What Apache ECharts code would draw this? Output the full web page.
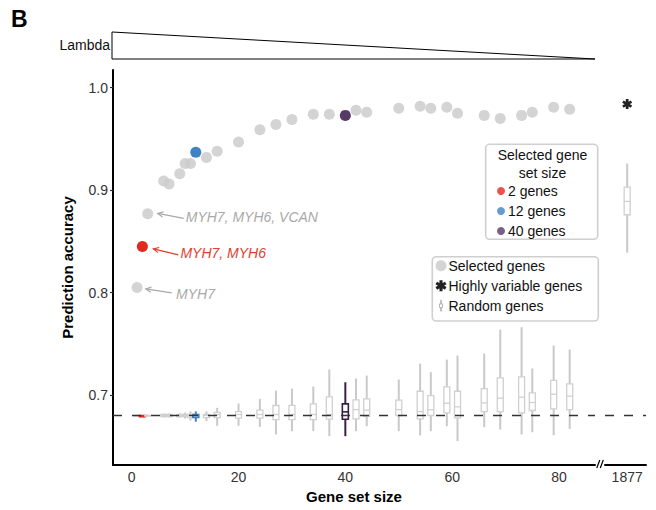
<!DOCTYPE html>
<html><head><meta charset="utf-8">
<script src="https://cdn.jsdelivr.net/npm/echarts@6/dist/echarts.min.js"></script>
<style>html,body{margin:0;padding:0;background:#fff}#chart{width:656px;height:510px}</style>
</head><body><div id="chart"></div>
<script>
const FONT = '"Liberation Sans", Arial, Helvetica, sans-serif';

// ---- data ----
const geneSetSize      = [1,2,3,6,7,9,10,11,12,14,16,20,24,27,30,34,37,40,42,44,50,54,56,59,61,66,69,73,75,79,82];
const selectedAccuracy = [0.805,0.845,0.877,0.909,0.906,0.916,0.926,0.926,0.937,0.932,0.938,0.947,0.959,0.964,0.969,0.974,0.974,0.973,0.978,0.976,0.980,0.982,0.980,0.981,0.975,0.973,0.970,0.973,0.976,0.981,0.979];
const randomLow    = [0.680,0.679,0.679,0.678,0.678,0.678,0.677,0.675,0.674,0.6745,0.670,0.670,0.669,0.6615,0.6647,0.6647,0.6598,0.6598,0.6647,0.6696,0.6647,0.6605,0.6647,0.6696,0.655,0.6686,0.6663,0.6615,0.6637,0.6608,0.667];
const randomQ1     = [0.680,0.679,0.680,0.679,0.679,0.679,0.679,0.678,0.678,0.678,0.678,0.6774,0.6774,0.676,0.676,0.676,0.6764,0.6764,0.6768,0.6793,0.680,0.6768,0.680,0.6826,0.6777,0.6839,0.6839,0.6826,0.6849,0.6865,0.6858];
const randomMedian = [0.680,0.679,0.680,0.680,0.680,0.680,0.680,0.680,0.680,0.680,0.681,0.681,0.681,0.681,0.681,0.681,0.681,0.6836,0.6858,0.6852,0.6858,0.6839,0.6855,0.692,0.6885,0.6923,0.6969,0.6979,0.6927,0.7008,0.6989];
const randomQ3     = [0.680,0.680,0.680,0.681,0.681,0.681,0.681,0.681,0.681,0.681,0.683,0.6839,0.6852,0.6898,0.690,0.6914,0.6982,0.6914,0.6953,0.6963,0.695,0.7037,0.6995,0.708,0.7037,0.7063,0.7168,0.7177,0.7021,0.7144,0.7109];
const randomHigh   = [0.680,0.680,0.681,0.682,0.682,0.682,0.683,0.684,0.684,0.684,0.6875,0.6917,0.6963,0.7044,0.7063,0.7083,0.7249,0.7125,0.7161,0.719,0.7151,0.7307,0.7223,0.7346,0.7385,0.7405,0.7639,0.7662,0.7259,0.7483,0.7444];
const hvgSize = 1877;
const hvgAccuracy = 0.984;
const hvgRandom = [0.839,0.876,0.889,0.903,0.926]; // low, q1, median, q3, high
const baseline = 0.68;
const highlightSizes = [2, 12, 40];
const highlightNames = ['2 genes', '12 genes', '40 genes'];
const annotatedSizes = [3, 2, 1];
const annotationLabels = ['MYH7, MYH6, VCAN', 'MYH7, MYH6', 'MYH7'];
const xTickValues = [0, 20, 40, 60, 80];
const breakTickValues = [1877];
const yTickValues = [0.7, 0.8, 0.9, 1.0];

// ---- styles ----
const highlightColors = ['#e3291d', '#3f83c4', '#573a66'];
const boxHighlight = {2: '#e3291d', 12: '#3f83c4', 40: '#3a1d47'};
const annotationStyle = [
  {color: '#a9a9a9', head: [10, -0.3], tail: [36, 4.7], text: [38, 3]},
  {color: '#e0412f', head: [11, 2.3], tail: [36, 8.3], text: [38, 6.6]},
  {color: '#a9a9a9', head: [8.7, 1.4], tail: [34.7, 5.4], text: [39, 7]}
];
const asteriskPath = 'path://M-1.4,-5L1.4,-5L1.4,5L-1.4,5ZM3.63,-3.71L5.03,-1.29L-3.63,3.71L-5.03,1.29ZM5.03,1.29L3.63,3.71L-5.03,-1.29L-3.63,-3.71Z';
const boxIconPath = 'path://M3.5,0L4.5,0L4.5,6L3.5,6ZM1.5,6L6.5,6L6.5,12L1.5,12ZM3.5,12L4.5,12L4.5,18L3.5,18Z';

// ---- derived series data ----
const greyPoints = geneSetSize.map((s, i) => [s, selectedAccuracy[i]]).filter(p => highlightSizes.indexOf(p[0]) < 0);
const highlightPoints = highlightSizes.map(s => [[s, selectedAccuracy[geneSetSize.indexOf(s)]]]);
const boxRows = geneSetSize.map((s, i) => [s, randomLow[i], randomQ1[i], randomMedian[i], randomQ3[i], randomHigh[i]]);
const hvgBoxRows = [[hvgSize].concat(hvgRandom)];
const annotationRows = annotatedSizes.map(s => [s, selectedAccuracy[geneSetSize.indexOf(s)]]);

function renderBox(params, api) {
  const x = api.value(0);
  const lo = api.coord([x, api.value(1)]);
  const q1 = api.coord([x, api.value(2)]);
  const md = api.coord([x, api.value(3)]);
  const q3 = api.coord([x, api.value(4)]);
  const hi = api.coord([x, api.value(5)]);
  const hc = boxHighlight[x];
  const wCol = hc || '#c9c9c9';
  const bCol = hc || '#d0d0d0';
  const hw = 3;
  return {
    type: 'group',
    children: [
      {type: 'line', shape: {x1: lo[0], y1: lo[1], x2: hi[0], y2: hi[1]}, style: {stroke: wCol, lineWidth: 2}},
      {type: 'rect', shape: {x: q1[0] - hw, y: q3[1], width: 2 * hw, height: Math.max(q1[1] - q3[1], 0.5)},
       style: {fill: '#fff', stroke: bCol, lineWidth: hc ? 1.6 : 1.3}},
      {type: 'line', shape: {x1: md[0] - hw, y1: md[1], x2: md[0] + hw, y2: md[1]}, style: {stroke: bCol, lineWidth: hc ? 1.6 : 1.3}}
    ]
  };
}

function renderAnnotation(params, api) {
  const p = api.coord([api.value(0), api.value(1)]);
  const s = annotationStyle[params.dataIndex];
  const hx = p[0] + s.head[0], hy = p[1] + s.head[1];
  const tx = p[0] + s.tail[0], ty = p[1] + s.tail[1];
  const ang = Math.atan2(hy - ty, hx - tx);
  const L = 6, a = 0.45;
  const a1 = [hx - L * Math.cos(ang - a), hy - L * Math.sin(ang - a)];
  const a2 = [hx - L * Math.cos(ang + a), hy - L * Math.sin(ang + a)];
  return {
    type: 'group',
    children: [
      {type: 'line', shape: {x1: tx, y1: ty, x2: hx, y2: hy}, style: {stroke: s.color, lineWidth: 1.2}},
      {type: 'polyline', shape: {points: [a1, [hx, hy], a2]}, style: {stroke: s.color, lineWidth: 1.2, fill: null}},
      {type: 'text', x: p[0] + s.text[0], y: p[1] + s.text[1],
       style: {text: annotationLabels[params.dataIndex], fill: s.color, font: 'italic 14px ' + FONT, align: 'left', verticalAlign: 'middle'}}
    ]
  };
}

const chart = echarts.init(document.getElementById('chart'), null, {renderer: 'svg'});

const yMin = 0.6317, yMax = 1.0173;
const axisText = {fontSize: 14, color: '#333', fontFamily: FONT};

const option = {
  animation: false,
  backgroundColor: '#fff',
  textStyle: {fontFamily: FONT},
  grid: [
    {left: 113, right: 61, top: 70, bottom: 45, outerBoundsMode: 'none', containLabel: false},
    {left: 605, right: 10, top: 70, bottom: 45, outerBoundsMode: 'none', containLabel: false}
  ],
  xAxis: [
    {gridIndex: 0, type: 'value', min: -3.5, max: 86.74,
     axisLine: {show: true, onZero: false, lineStyle: {color: '#000', width: 2}},
     axisTick: {show: false}, splitLine: {show: false},
     axisLabel: {customValues: xTickValues, formatter: v => String(v), margin: 5, ...axisText},
     name: 'Gene set size', nameLocation: 'middle', nameGap: 24,
     nameTextStyle: {fontWeight: 'bold', fontSize: 15, color: '#000', fontFamily: FONT}},
    {gridIndex: 1, type: 'value', min: 1872.88, max: 1880.5,
     axisLine: {show: true, onZero: false, lineStyle: {color: '#000', width: 2}},
     axisTick: {show: false}, splitLine: {show: false},
     axisLabel: {customValues: breakTickValues, formatter: v => String(v), margin: 5, ...axisText}}
  ],
  yAxis: [
    {gridIndex: 0, type: 'value', min: yMin, max: yMax,
     axisLine: {show: true, onZero: false, lineStyle: {color: '#000', width: 2}},
     axisTick: {show: true, length: 3, customValues: yTickValues, lineStyle: {color: '#333', width: 1.2}},
     splitLine: {show: false},
     axisLabel: {customValues: yTickValues, formatter: v => Number(v).toFixed(1), margin: 5, ...axisText},
     name: 'Prediction accuracy', nameLocation: 'middle', nameGap: 38,
     nameTextStyle: {fontWeight: 'bold', fontSize: 15, color: '#000', fontFamily: FONT}},
    {gridIndex: 1, type: 'value', min: yMin, max: yMax, show: false, splitLine: {show: false}}
  ],
  legend: [
    {data: highlightNames, orient: 'vertical', left: 497, top: 184, itemWidth: 8, itemHeight: 8, itemGap: 6,
     icon: 'circle', selectedMode: false, padding: 0, itemStyle: {opacity: 0.8},
     textStyle: {fontSize: 14, color: '#111', fontFamily: FONT, padding: [0, 0, 0, -2]}},
    {data: [
       {name: 'Selected genes', icon: 'circle'},
       {name: 'Highly variable genes', icon: asteriskPath},
       {name: 'Random genes', icon: boxIconPath, itemStyle: {color: '#fff', borderColor: '#b5b5b5', borderWidth: 1}}
     ],
     orient: 'vertical', left: 435.5, top: 258.7, itemWidth: 11, itemHeight: 11, itemGap: 6,
     selectedMode: false, padding: 0,
     textStyle: {fontSize: 14, color: '#111', fontFamily: FONT, padding: [0, 0, 0, -3]}}
  ],
  graphic: [
    {type: 'text', left: 11, top: 7, style: {text: 'B', font: 'bold 23px ' + FONT, fill: '#000'}},
    {type: 'text', right: 656 - 110, top: 38, style: {text: 'Lambda', font: '14px ' + FONT, fill: '#111'}},
    {type: 'polygon', shape: {points: [[112, 32], [112, 59], [595, 59]]}, style: {fill: '#fff', stroke: '#000', lineWidth: 1}},
    {type: 'rect', z: 3, shape: {x: 485.7, y: 144.3, width: 112, height: 95, r: 4}, style: {fill: '#fff', stroke: '#cfcfcf', lineWidth: 1.6}},
    {type: 'text', z: 4, x: 542.5, y: 155, style: {text: 'Selected gene', font: '14px ' + FONT, fill: '#111', align: 'center', verticalAlign: 'middle'}},
    {type: 'text', z: 4, x: 542.5, y: 172.7, style: {text: 'set size', font: '14px ' + FONT, fill: '#111', align: 'center', verticalAlign: 'middle'}},
    {type: 'rect', z: 3, shape: {x: 432.3, y: 256.7, width: 166, height: 64.3, r: 4}, style: {fill: '#fff', stroke: '#cfcfcf', lineWidth: 1.6}},
    {type: 'line', z: 5, shape: {x1: 596.8, y1: 468, x2: 599.8, y2: 460}, style: {stroke: '#000', lineWidth: 1.2}},
    {type: 'line', z: 5, shape: {x1: 600.3, y1: 468, x2: 603.3, y2: 460}, style: {stroke: '#000', lineWidth: 1.2}}
  ],
  series: [
    {name: 'baseline', type: 'line', xAxisIndex: 0, yAxisIndex: 0, data: [], z: 1, silent: true,
     markLine: {silent: true, symbol: 'none', label: {show: false},
       lineStyle: {color: '#333', width: 1.4, type: [9, 10]}, data: [{yAxis: baseline}]}},
    {name: 'baseline2', type: 'line', xAxisIndex: 1, yAxisIndex: 1, data: [], z: 1, silent: true,
     markLine: {silent: true, symbol: 'none', label: {show: false},
       lineStyle: {color: '#333', width: 1.4, type: [9, 10]}, data: [{yAxis: baseline}]}},
    {name: 'Random genes', type: 'custom', xAxisIndex: 0, yAxisIndex: 0, z: 2, silent: true,
     itemStyle: {color: '#c9c9c9'}, renderItem: renderBox, data: boxRows,
     encode: {x: 0, y: [1, 2, 3, 4, 5]}},
    {name: 'Random genes', type: 'custom', xAxisIndex: 1, yAxisIndex: 1, z: 2, silent: true,
     itemStyle: {color: '#c9c9c9'}, renderItem: renderBox, data: hvgBoxRows,
     encode: {x: 0, y: [1, 2, 3, 4, 5]}},
    {name: 'Selected genes', type: 'scatter', xAxisIndex: 0, yAxisIndex: 0, z: 3, symbol: 'circle', symbolSize: 11,
     itemStyle: {color: 'rgba(205,205,205,0.85)', opacity: 1}, data: greyPoints},
    ...highlightNames.map((n, i) => ({
      name: n, type: 'scatter', xAxisIndex: 0, yAxisIndex: 0, z: 4, symbol: 'circle', symbolSize: 11,
      itemStyle: {color: highlightColors[i], opacity: 1}, data: highlightPoints[i]})),
    {name: 'Highly variable genes', type: 'scatter', xAxisIndex: 1, yAxisIndex: 1, z: 4, symbol: asteriskPath, symbolSize: 10,
     itemStyle: {color: '#222', opacity: 1}, data: [[hvgSize, hvgAccuracy]]},
    {name: 'annotations', type: 'custom', xAxisIndex: 0, yAxisIndex: 0, z: 5, silent: true,
     renderItem: renderAnnotation, data: annotationRows, encode: {x: 0, y: 1}, clip: false}
  ]
};
chart.setOption(option);
</script>
</body></html>
